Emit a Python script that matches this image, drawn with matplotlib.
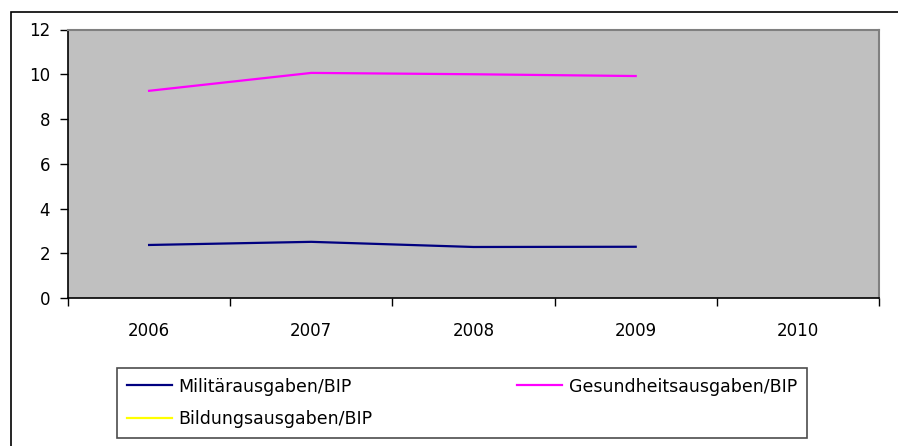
import numpy as np
import matplotlib.pyplot as plt
from matplotlib.patches import Rectangle

jahre = ["2006", "2007", "2008", "2009", "2010"]
militaer = [2.37, 2.51, 2.28, 2.29, None]
gesundheit = [9.26, 10.06, 10.0, 9.92, None]
bildung = [None, None, None, None, None]

plt.rcParams['font.family'] = ['DejaVu Sans']

fig = plt.figure(figsize=(8.98, 4.46), dpi=100)
ax = fig.add_axes([68/898, 1 - 298/446, (879-68)/898, (298-29.5)/446])
ax.set_facecolor('#C0C0C0')

x = np.arange(len(jahre))
def werte(v):
    return np.array([np.nan if w is None else w for w in v], dtype=float)

l_mil, = ax.plot(x, werte(militaer), color='#000080', lw=1.6, label='Militärausgaben/BIP')
l_ges, = ax.plot(x, werte(gesundheit), color='#FF00FF', lw=1.6, label='Gesundheitsausgaben/BIP')
l_bil, = ax.plot(x, werte(bildung), color='#FFFF00', lw=1.6, label='Bildungsausgaben/BIP')

ax.set_xlim(-0.5, len(jahre) - 0.5)
ax.set_ylim(0, 12)
ax.set_yticks(range(0, 13, 2))
ax.set_xticks(np.arange(-0.5, len(jahre), 1.0))
ax.set_xticklabels([])
ax.set_xticks(x, minor=True)
ax.set_xticklabels(jahre, minor=True)
ax.tick_params(axis='x', which='major', direction='out', length=6, width=1, color='black')
ax.tick_params(axis='x', which='minor', length=0, pad=17, labelsize=12)
ax.tick_params(axis='y', direction='out', length=6, width=1, pad=7, labelsize=12)

for s in ['left', 'bottom']:
    ax.spines[s].set_color('black')
    ax.spines[s].set_linewidth(1.2)
for s in ['top', 'right']:
    ax.spines[s].set_color('#808080')
    ax.spines[s].set_linewidth(1.5)

# Reihenfolge so, dass Zeile 1 = Militär, Gesundheit; Zeile 2 = Bildung
leg = fig.legend(handles=[l_mil, l_bil, l_ges],
                 loc='upper left', bbox_to_anchor=(117/898, 1 - 368/446, 690/898, 0),
                 mode='expand', ncol=2, fontsize=12.5, frameon=True, fancybox=False,
                 handlelength=2.6, handletextpad=0.4, labelspacing=0.85, borderpad=0.55,
                 borderaxespad=0)
leg.get_frame().set_edgecolor('#202020')
leg.get_frame().set_linewidth(1.2)

fig.add_artist(Rectangle((11/898, -0.2), 1.0, 1 - 12/446 + 0.2, transform=fig.transFigure,
                         fill=False, edgecolor='black', linewidth=1.2))

fig.savefig('out.png', dpi=100)
